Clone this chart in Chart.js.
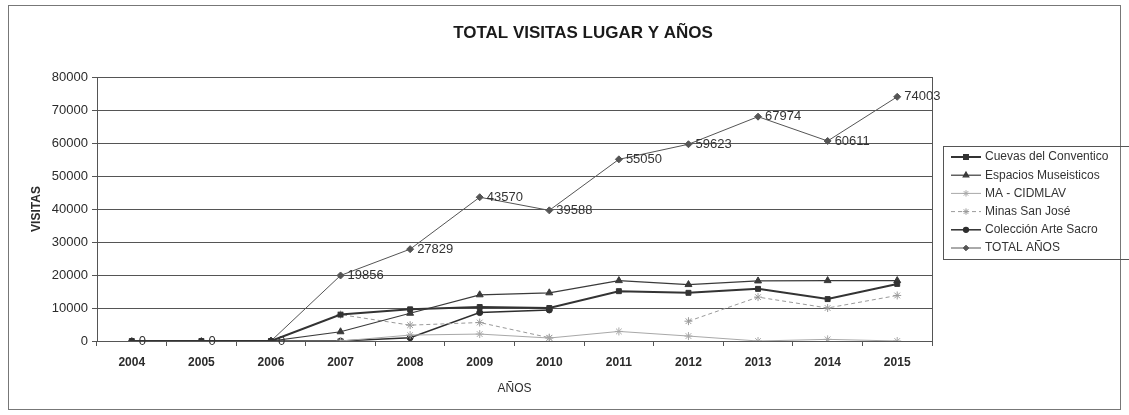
<!DOCTYPE html>
<html>
<head>
<meta charset="utf-8">
<script src="https://cdn.jsdelivr.net/npm/chart.js@4/dist/chart.umd.min.js"></script>
<style>
  html, body { margin: 0; padding: 0; background: #fff; }
  #wrap { width: 1129px; height: 415px; }
</style>
</head>
<body>
<div id="wrap"><canvas id="c" width="1129" height="415"></canvas></div>
<script>
// years on the x axis
const years = ['2004', '2005', '2006', '2007', '2008', '2009', '2010', '2011', '2012', '2013', '2014', '2015']

// visits per place (null = no data)
const cuevas      = [0, 0, 0, 8000, 9600, 10300, 10000, 15100, 14600, 15800, 12700, 17300]
const espacios    = [null, null, 0, 2800, 8400, 14000, 14600, 18300, 17100, 18200, 18300, 18300]
const maCidmlav   = [null, null, null, 0, 1800, 2100, 900, 2900, 1500, 0, 500, 0]
const minas       = [null, null, 0, 8000, 4800, 5600, 1000, null, 6000, 13300, 10000, 13800]
const arteSacro   = [null, null, 0, 0, 1000, 8600, 9400, null, null, null, null, null]
const totalAnos   = [0, 0, 0, 19856, 27829, 43570, 39588, 55050, 59623, 67974, 60611, 74003]

const yTicks = [0, 10000, 20000, 30000, 40000, 50000, 60000, 70000, 80000]

const FONT = 'Arial, "Liberation Sans", sans-serif'
const INK = '#2b2b2b'

function series(label, data, color, width, style, radius, dash) {
  return {
    label, data,
    borderColor: color, backgroundColor: color,
    borderWidth: width, borderDash: dash || [],
    pointStyle: style, pointRadius: radius,
    pointBorderColor: color, pointBackgroundColor: color, pointBorderWidth: 1,
    tension: 0, spanGaps: false,
  }
}

const datasets = [
  series('Cuevas del Conventico', cuevas, '#333', 2, 'rect', 3.5),
  series('Espacios Museisticos', espacios, '#3a3a3a', 1.2, 'triangle', 4),
  series('MA - CIDMLAV', maCidmlav, '#a8a8a8', 1, 'star', 4),
  series('Minas San José', minas, '#9a9a9a', 1, 'star', 4, [4, 3]),
  series('Colección Arte Sacro', arteSacro, '#2e2e2e', 1.5, 'circle', 3),
  series('TOTAL AÑOS', totalAnos, '#555', 1, 'rectRot', 3.5),
]

// frame, plot border, title, data labels and legend box like the original sheet
const decor = {
  id: 'decor',
  beforeDraw(chart) {
    const { ctx, width, height } = chart
    ctx.save()
    ctx.fillStyle = '#fff'
    ctx.fillRect(0, 0, width, height)
    ctx.strokeStyle = '#777'
    ctx.lineWidth = 1
    ctx.strokeRect(8.5, 5.5, 1112, 404)
    ctx.restore()
  },
  afterDatasetsDraw(chart) {
    const { ctx, chartArea } = chart
    ctx.save()
    ctx.strokeStyle = '#555'
    ctx.lineWidth = 1
    ctx.beginPath()
    ctx.moveTo(Math.round(chartArea.right) + 0.5, chartArea.top)
    ctx.lineTo(Math.round(chartArea.right) + 0.5, chartArea.bottom)
    ctx.stroke()

    // title
    ctx.fillStyle = '#1a1a1a'
    ctx.font = 'bold 17px ' + FONT
    ctx.textAlign = 'center'
    ctx.textBaseline = 'middle'
    ctx.fillText('TOTAL VISITAS LUGAR Y AÑOS', 583, 33)

    // value labels on the total line
    const ti = chart.data.datasets.length - 1
    const meta = chart.getDatasetMeta(ti)
    ctx.font = '13px ' + FONT
    ctx.fillStyle = '#333'
    ctx.textAlign = 'left'
    meta.data.forEach((pt, i) => {
      const v = chart.data.datasets[ti].data[i]
      if (v == null) return
      ctx.fillText(String(v), pt.x + 7, pt.y)
    })

    // legend
    const lx = 943, ly = 146
    ctx.strokeStyle = '#555'
    ctx.strokeRect(lx + 0.5, ly + 0.5, 200, 113)
    chart.data.datasets.forEach((ds, i) => {
      const y = ly + 11 + i * 18.2
      ctx.strokeStyle = ds.borderColor
      ctx.lineWidth = ds.borderWidth
      ctx.setLineDash(ds.borderDash)
      ctx.beginPath()
      ctx.moveTo(lx + 8, y)
      ctx.lineTo(lx + 38, y)
      ctx.stroke()
      ctx.setLineDash([])
      ctx.fillStyle = ds.borderColor
      Chart.helpers.drawPoint(ctx, { pointStyle: ds.pointStyle, radius: ds.pointRadius * 0.8, rotation: 0, borderWidth: 1 }, lx + 23, y)
      ctx.fillStyle = '#333'
      ctx.font = '12px ' + FONT
      ctx.textBaseline = 'middle'
      ctx.fillText(ds.label, lx + 42, y)
    })
    ctx.restore()
  },
}

new Chart(document.getElementById('c'), {
  type: 'line',
  data: { labels: years, datasets },
  plugins: [decor],
  options: {
    responsive: false,
    animation: false,
    layout: { padding: { left: 8, right: 197, top: 77, bottom: 0 } },
    plugins: {
      legend: { display: false },
      title: { display: false },
      tooltip: { enabled: false },
    },
    scales: {
      x: {
        offset: true,
        afterFit(scale) { scale.height = 74 },
        grid: { offset: true, drawOnChartArea: false, drawTicks: true, tickLength: 5, color: '#555' },
        border: { display: true, color: '#555' },
        ticks: { color: INK, padding: 9, maxRotation: 0, font: { family: FONT, size: 12, weight: 'bold' } },
        title: { display: true, text: 'AÑOS', color: INK, padding: { top: 0, bottom: 19 }, font: { family: FONT, size: 12 } },
      },
      y: {
        min: 0,
        max: 80000,
        afterFit(scale) { scale.width = 89 },
        afterBuildTicks(scale) { scale.ticks = yTicks.map(v => ({ value: v })) },
        grid: { color: '#555', tickLength: 5, drawTicks: true },
        border: { display: true, color: '#555' },
        ticks: { color: INK, padding: 4, callback: v => String(v), font: { family: FONT, size: 13 } },
        title: { display: true, text: 'VISITAS', color: INK, padding: { top: 21, bottom: 0 }, font: { family: FONT, size: 12, weight: 'bold' } },
      },
    },
  },
})
</script>
</body>
</html>
